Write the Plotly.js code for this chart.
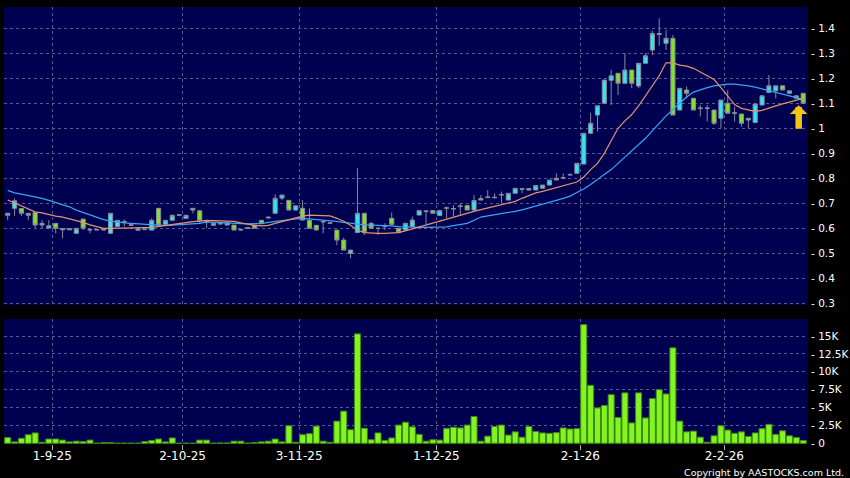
<!DOCTYPE html>
<html>
<head>
<meta charset="utf-8">
<script src="https://cdn.plot.ly/plotly-3.0.1.min.js"></script>
<style>
  html, body { margin: 0; padding: 0; background: #000000; }
  #chart { width: 850px; height: 478px; }
</style>
</head>
<body>
<div id="chart"></div>
<script>
// ---- data ----
const openP = [0.652,0.68,0.679,0.652,0.663,0.613,0.601,0.62,0.594,0.594,0.58,0.637,0.593,0.593,0.593,0.58,0.607,0.625,0.612,0.592,0.595,0.593,0.68,0.616,0.632,0.652,0.64,0.68,0.67,0.625,0.62,0.617,0.613,0.613,0.593,0.6,0.613,0.632,0.641,0.66,0.721,0.712,0.673,0.68,0.632,0.612,0.625,0.62,0.593,0.553,0.5,0.583,0.66,0.62,0.6,0.607,0.64,0.6,0.593,0.607,0.653,0.667,0.671,0.651,0.68,0.677,0.687,0.691,0.673,0.713,0.723,0.722,0.733,0.713,0.74,0.756,0.753,0.753,0.76,0.773,0.8,0.8,0.813,0.82,0.857,0.98,1.053,1.1,1.192,1.22,1.18,1.233,1.169,1.26,1.313,1.375,1.34,1.36,1.073,1.153,1.12,1.079,1.079,1.073,1.04,1.1,1.06,1.057,1.033,1.023,1.093,1.143,1.15,1.17,1.14,1.12,1.14];
const highP = [0.662,0.72,0.68,0.66,0.663,0.633,0.633,0.62,0.598,0.598,0.6,0.637,0.595,0.595,0.595,0.66,0.632,0.635,0.615,0.598,0.597,0.64,0.68,0.632,0.655,0.654,0.652,0.68,0.673,0.63,0.62,0.619,0.622,0.613,0.595,0.602,0.613,0.632,0.65,0.736,0.733,0.712,0.69,0.713,0.68,0.612,0.633,0.622,0.593,0.563,0.513,0.84,0.66,0.625,0.603,0.62,0.663,0.6,0.62,0.647,0.673,0.673,0.671,0.671,0.687,0.693,0.7,0.691,0.733,0.733,0.753,0.74,0.747,0.74,0.76,0.76,0.76,0.771,0.773,0.793,0.82,0.82,0.82,0.86,0.98,1.062,1.09,1.193,1.233,1.22,1.3,1.233,1.26,1.3,1.39,1.44,1.393,1.373,1.16,1.167,1.12,1.093,1.093,1.073,1.113,1.153,1.087,1.057,1.04,1.097,1.13,1.213,1.17,1.17,1.15,1.13,1.14];
const lowP = [0.633,0.65,0.649,0.633,0.6,0.6,0.6,0.58,0.56,0.594,0.58,0.593,0.58,0.593,0.593,0.58,0.607,0.607,0.61,0.592,0.595,0.593,0.613,0.616,0.632,0.652,0.64,0.66,0.62,0.6,0.612,0.617,0.613,0.593,0.59,0.6,0.6,0.619,0.641,0.66,0.713,0.673,0.673,0.633,0.6,0.593,0.58,0.62,0.533,0.513,0.48,0.583,0.573,0.6,0.573,0.593,0.616,0.583,0.593,0.607,0.653,0.617,0.66,0.651,0.64,0.647,0.653,0.673,0.673,0.713,0.72,0.722,0.7,0.713,0.74,0.74,0.753,0.753,0.76,0.773,0.793,0.8,0.813,0.82,0.857,0.98,0.987,1.1,1.093,1.133,1.18,1.16,1.16,1.26,1.293,1.33,1.313,1.053,1.073,1.12,1.073,1.047,1.027,1.013,1.0,1.06,1.027,1.007,1.0,1.023,1.093,1.143,1.12,1.153,1.14,1.12,1.1];
const closeP = [0.66,0.71,0.66,0.66,0.613,0.62,0.61,0.6,0.598,0.598,0.6,0.6,0.595,0.595,0.595,0.66,0.632,0.627,0.614,0.598,0.597,0.632,0.613,0.632,0.652,0.654,0.652,0.673,0.63,0.627,0.612,0.619,0.622,0.593,0.595,0.602,0.6,0.619,0.644,0.72,0.733,0.673,0.69,0.633,0.6,0.593,0.627,0.622,0.553,0.513,0.513,0.66,0.583,0.6,0.6,0.609,0.616,0.583,0.62,0.633,0.671,0.669,0.66,0.671,0.682,0.679,0.689,0.673,0.711,0.719,0.725,0.724,0.735,0.74,0.76,0.758,0.759,0.771,0.773,0.793,0.793,0.802,0.815,0.86,0.98,1.02,1.09,1.193,1.21,1.18,1.233,1.18,1.26,1.29,1.379,1.379,1.36,1.053,1.16,1.14,1.073,1.081,1.081,1.02,1.113,1.06,1.062,1.02,1.04,1.097,1.13,1.17,1.17,1.153,1.15,1.13,1.1];
const volume = [800,200,700,1200,1450,150,600,600,450,200,300,250,450,20,100,100,20,20,20,20,250,400,600,200,750,20,20,20,450,450,20,50,50,300,300,20,100,200,300,600,200,2450,150,1200,1350,2400,300,150,3100,4500,1900,15300,2100,500,1450,400,750,2550,2950,2300,1250,300,500,450,2100,2250,2150,2550,3750,300,1000,2350,2550,1150,1600,850,2350,1650,1450,1400,1500,2150,2000,2050,16600,8100,4950,5300,6800,3600,7050,2850,7050,3550,6250,7500,6900,13350,3100,1600,1700,850,150,1050,2450,1850,1400,1600,950,1450,2050,2650,1250,1750,1050,800,400];
const maShort = [0.713,0.701,0.69,0.678,0.666,0.662,0.655,0.649,0.645,0.639,0.631,0.624,0.614,0.606,0.6,0.6,0.6,0.601,0.602,0.603,0.603,0.604,0.608,0.613,0.617,0.621,0.624,0.627,0.629,0.632,0.631,0.63,0.629,0.628,0.622,0.616,0.612,0.61,0.612,0.62,0.628,0.636,0.643,0.649,0.653,0.653,0.652,0.65,0.64,0.628,0.612,0.593,0.583,0.58,0.58,0.58,0.58,0.583,0.59,0.598,0.607,0.614,0.621,0.629,0.638,0.647,0.654,0.661,0.668,0.675,0.682,0.688,0.693,0.7,0.708,0.72,0.732,0.742,0.748,0.755,0.762,0.771,0.776,0.785,0.805,0.835,0.86,0.9,0.95,1.0,1.03,1.055,1.09,1.13,1.17,1.21,1.262,1.262,1.253,1.249,1.24,1.226,1.212,1.195,1.163,1.13,1.095,1.08,1.075,1.068,1.072,1.082,1.09,1.098,1.105,1.11,1.12];
const maLong = [0.752,0.742,0.737,0.732,0.727,0.72,0.712,0.704,0.695,0.686,0.673,0.664,0.655,0.643,0.635,0.629,0.624,0.622,0.62,0.618,0.615,0.613,0.611,0.611,0.613,0.614,0.616,0.618,0.62,0.626,0.624,0.622,0.621,0.62,0.619,0.618,0.617,0.619,0.624,0.628,0.63,0.634,0.638,0.64,0.638,0.636,0.634,0.633,0.628,0.624,0.62,0.616,0.614,0.613,0.613,0.612,0.61,0.607,0.605,0.604,0.604,0.604,0.604,0.604,0.606,0.611,0.615,0.62,0.632,0.645,0.65,0.654,0.657,0.662,0.668,0.674,0.681,0.689,0.697,0.705,0.712,0.72,0.729,0.743,0.757,0.775,0.795,0.815,0.835,0.86,0.885,0.91,0.935,0.96,0.99,1.02,1.05,1.075,1.1,1.125,1.145,1.155,1.163,1.17,1.175,1.177,1.177,1.175,1.17,1.165,1.158,1.152,1.145,1.138,1.13,1.122,1.116];
const dateLabels = ["1-9-25","2-10-25","3-11-25","1-12-25","2-1-26","2-2-26"];
const dateTickPos = [6.5,25.5,42.5,62.5,83.5,104.5];
const priceTicks = [0.3,0.4,0.5,0.6,0.7,0.8,0.9,1,1.1,1.2,1.3,1.4];
const volTicks = [0,2500,5000,7500,10000,12500,15000];
const volTickText = ["0","2.5K","5K","7.5K","10K","12.5K","15K"];

const idx = openP.map((_, i) => i);

const gridCol = '#5a5a96';
const font = {family: 'DejaVu Sans, Verdana, sans-serif', color: '#ffffff'};

const traces = [
  {
    type: 'candlestick', x: idx, open: openP, high: highP, low: lowP, close: closeP,
    xaxis: 'x', yaxis: 'y',
    increasing: {fillcolor: '#30e6f2', line: {color: '#8a8a9a', width: 1}},
    decreasing: {fillcolor: '#84e02a', line: {color: '#8a8a9a', width: 1}},
    whiskerwidth: 0, hoverinfo: 'skip', showlegend: false
  },
  {
    type: 'scatter', mode: 'lines', x: idx, y: maLong, xaxis: 'x', yaxis: 'y',
    line: {color: '#3aa4f4', width: 1.2}, hoverinfo: 'skip', showlegend: false
  },
  {
    type: 'scatter', mode: 'lines', x: idx, y: maShort, xaxis: 'x', yaxis: 'y',
    line: {color: '#e0946e', width: 1.2}, hoverinfo: 'skip', showlegend: false
  },
  {
    type: 'bar', x: idx, y: volume, xaxis: 'x2', yaxis: 'y2',
    marker: {color: '#84f420', line: {color: '#3c8a12', width: 1}},
    hoverinfo: 'skip', showlegend: false
  }
];

const xRange = [-0.54, 116.7];

const layout = {
  width: 850, height: 478,
  paper_bgcolor: '#000000', plot_bgcolor: '#000050',
  margin: {l: 4, r: 42, t: 7, b: 34},
  boxgap: 0.14,
  bargap: 0.12,
  showlegend: false,
  xaxis: {
    domain: [0, 1], anchor: 'y', range: xRange, type: 'linear',
    tickvals: dateTickPos, showticklabels: false, ticks: '',
    showgrid: true, gridcolor: gridCol, griddash: '3px,3px', gridwidth: 1,
    zeroline: false, showline: false, rangeslider: {visible: false}, fixedrange: true
  },
  yaxis: {
    domain: [0.318, 1], anchor: 'x', side: 'right', range: [0.2932, 1.4852],
    tickvals: priceTicks, ticktext: priceTicks.map(v => '- ' + v),
    ticks: '', tickfont: Object.assign({size: 10.5}, font), ticklabelstandoff: 2,
    showgrid: true, gridcolor: gridCol, griddash: '3px,3px', gridwidth: 1,
    zeroline: false, showline: false, fixedrange: true
  },
  xaxis2: {
    domain: [0, 1], anchor: 'y2', range: xRange, type: 'linear',
    tickvals: dateTickPos, ticktext: dateLabels,
    ticks: 'outside', ticklen: 5, tickcolor: '#b0b0b0', tickwidth: 1,
    tickfont: Object.assign({size: 12}, font), ticklabelstandoff: -4,
    showgrid: true, gridcolor: gridCol, griddash: '3px,3px', gridwidth: 1,
    zeroline: false, showline: false, fixedrange: true
  },
  yaxis2: {
    domain: [0, 0.286], anchor: 'x2', side: 'right', range: [-98, 17380],
    tickvals: volTicks, ticktext: volTickText.map(t => '- ' + t),
    ticks: '', tickfont: Object.assign({size: 10.5}, font), ticklabelstandoff: 2,
    showgrid: true, gridcolor: gridCol, griddash: '3px,3px', gridwidth: 1,
    zeroline: false, showline: false, fixedrange: true
  },
  annotations: [
    {
      xref: 'x', yref: 'y', x: idx[idx.length - 1], y: lowP[lowP.length - 1],
      xshift: -4.5, yshift: -2,
      text: '', showarrow: true, ax: 0, ay: 25,
      arrowhead: 1, arrowsize: 0.45, arrowwidth: 6.5, arrowcolor: '#f4c414'
    },
    {
      xref: 'paper', yref: 'paper', x: 1, y: 0, xanchor: 'right', yanchor: 'middle',
      xshift: 38, yshift: -28, showarrow: false,
      text: 'Copyright by AASTOCKS.com Ltd.',
      font: Object.assign({size: 9.5}, font)
    }
  ]
};

Plotly.newPlot('chart', traces, layout, {staticPlot: true, displayModeBar: false});
</script>
</body>
</html>
